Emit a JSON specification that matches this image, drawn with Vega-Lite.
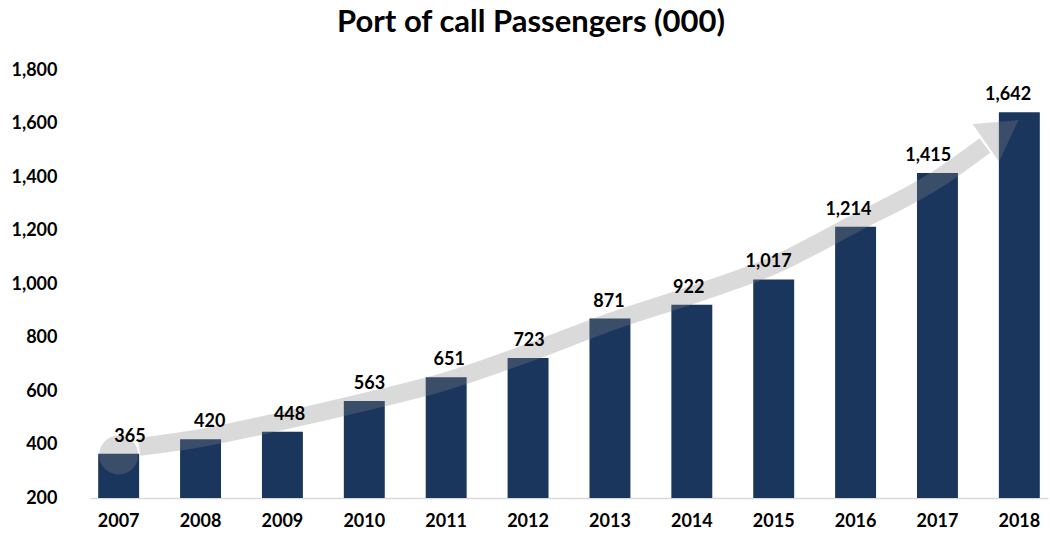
{
  "$schema": "https://vega.github.io/schema/vega-lite/v6.json",
  "autosize": {"type": "none"},
  "width": 958,
  "height": 428,
  "padding": {"left": 90, "top": 70, "right": 2, "bottom": 38},
  "background": "white",
  "config": {
    "view": {"stroke": null},
    "font": "Lato",
    "axis": {"labelFont": "Lato", "labelFontWeight": "bold", "labelFontSize": 18, "labelColor": "#000000", "grid": false, "ticks": false, "tickSize": 0, "title": null}
  },
  "title": {
    "text": "Port of call Passengers (000)",
    "font": "Lato",
    "fontSize": 31,
    "fontWeight": "bold",
    "color": "#000000",
    "anchor": "middle",
    "dx": -38,
    "offset": 22
  },
  "datasets": {
    "bars": [
      {"year": "2007", "value": 365, "label": "365"},
      {"year": "2008", "value": 420, "label": "420"},
      {"year": "2009", "value": 448, "label": "448"},
      {"year": "2010", "value": 563, "label": "563"},
      {"year": "2011", "value": 651, "label": "651"},
      {"year": "2012", "value": 723, "label": "723"},
      {"year": "2013", "value": 871, "label": "871"},
      {"year": "2014", "value": 922, "label": "922"},
      {"year": "2015", "value": 1017, "label": "1,017"},
      {"year": "2016", "value": 1214, "label": "1,214"},
      {"year": "2017", "value": 1415, "label": "1,415"},
      {"year": "2018", "value": 1642, "label": "1,642"}
    ],
    "arrow": [
      {"t": 2007.25, "v": 391},
      {"t": 2008, "v": 424},
      {"t": 2009, "v": 488},
      {"t": 2010, "v": 559},
      {"t": 2011, "v": 637},
      {"t": 2012, "v": 742},
      {"t": 2013, "v": 858},
      {"t": 2014, "v": 959},
      {"t": 2015, "v": 1070},
      {"t": 2016, "v": 1228},
      {"t": 2017, "v": 1392},
      {"t": 2017.58, "v": 1518}
    ],
    "arrowStart": [{"t": 2007, "v": 361}],
    "arrowHead": [{"t": 2017.79, "v": 1570}]
  },
  "layer": [
    {
      "data": {"name": "bars"},
      "mark": {"type": "bar", "color": "#1b365d"},
      "encoding": {
        "x": {
          "field": "year", "type": "ordinal",
          "scale": {"paddingInner": 0.5, "paddingOuter": 0.1},
          "axis": {"labelAngle": 0, "labelPadding": 14, "domain": true, "domainColor": "#d9d9d9", "domainWidth": 1.5}
        },
        "y": {
          "field": "value", "type": "quantitative",
          "scale": {"domain": [200, 1800], "zero": false, "nice": false},
          "axis": {"values": [200, 400, 600, 800, 1000, 1200, 1400, 1600, 1800], "format": ",d", "domain": false, "labelPadding": 33}
        },
        "y2": {"datum": 200}
      }
    },
    {
      "layer": [
        {
          "data": {"name": "arrow"},
          "mark": {"type": "line", "color": "#848484", "opacity": 0.3, "strokeWidth": 18, "interpolate": "monotone", "strokeCap": "butt"},
          "encoding": {
            "x": {"field": "t", "type": "quantitative", "scale": {"domain": [2006.6495, 2018.35], "nice": false, "zero": false}, "axis": null},
            "y": {"field": "v", "type": "quantitative"}
          }
        },
        {
          "data": {"name": "arrowStart"},
          "mark": {"type": "point", "shape": "circle", "filled": true, "color": "#848484", "opacity": 0.3, "size": 1520, "strokeWidth": 0},
          "encoding": {
            "x": {"field": "t", "type": "quantitative", "axis": null},
            "y": {"field": "v", "type": "quantitative"}
          }
        },
        {
          "data": {"name": "arrowHead"},
          "mark": {"type": "point", "shape": "triangle-up", "filled": true, "color": "#848484", "opacity": 0.3, "size": 2116, "angle": 55, "strokeWidth": 0},
          "encoding": {
            "x": {"field": "t", "type": "quantitative", "axis": null},
            "y": {"field": "v", "type": "quantitative"}
          }
        }
      ]
    },
    {
      "data": {"name": "bars"},
      "mark": {"type": "text", "font": "Lato", "fontSize": 18, "fontWeight": "bold", "color": "#000000", "baseline": "alphabetic", "dy": -12},
      "encoding": {
        "x": {"field": "year", "type": "ordinal", "scale": {"paddingInner": 0.5, "paddingOuter": 0.1}, "axis": null},
        "y": {"field": "value", "type": "quantitative"},
        "text": {"field": "label"}
      }
    }
  ],
  "resolve": {"scale": {"x": "independent"}}
}
